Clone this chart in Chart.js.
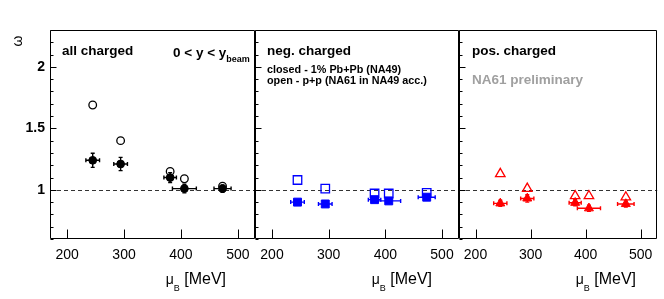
<!DOCTYPE html>
<html>
<head>
<meta charset="utf-8">
<script src="https://cdn.jsdelivr.net/npm/chart.js@4.4.1/dist/chart.umd.min.js"></script>
<style>
  html, body { margin: 0; padding: 0; background: #fff; }
  #wrap { position: relative; width: 664px; height: 299px; overflow: hidden; }
  canvas { position: absolute; left: 0; top: 0; }
  .t { position: absolute; white-space: nowrap; line-height: 1; font-family: "Liberation Sans", Arial, Helvetica, sans-serif; color: #000; }
  .b { font-weight: bold; }
  .xt { position: absolute; top: 270.5px; white-space: nowrap; line-height: 1; font-family: "Liberation Sans", Arial, sans-serif; font-size: 16px; text-align: right; }
  .xt .mu { font-size: 14px; }
  .xt sub { font-size: 9px; vertical-align: -7px; line-height: 1; }
</style>
</head>
<body>
<div id="wrap">
  <canvas id="c1" width="664" height="299"></canvas>
  <canvas id="c2" width="664" height="299"></canvas>
  <canvas id="c3" width="664" height="299"></canvas>

  <div class="t" style="left:12px; top:34px; font-size:14px; transform:rotate(-90deg);">ω</div>

  <div class="t b" style="left:62px; top:43.6px; font-size:13.5px;">all charged</div>
  <div class="t b" style="left:173px; top:45.6px; font-size:13.5px;">0 &lt; y &lt; y<span style="font-size:9px; vertical-align:-5px;">beam</span></div>

  <div class="t b" style="left:267px; top:43.6px; font-size:13.5px;">neg. charged</div>
  <div class="t b" style="left:267px; top:63.9px; font-size:10.8px;">closed - 1% Pb+Pb (NA49)</div>
  <div class="t b" style="left:267px; top:75.4px; font-size:10.8px;">open - p+p (NA61 in NA49 acc.)</div>

  <div class="t b" style="left:472px; top:43.6px; font-size:13.5px;">pos. charged</div>
  <div class="t b" style="left:472px; top:72.6px; font-size:13.5px; color:#a0a0a0;">NA61 preliminary</div>

  <div class="xt" style="right:438px;"><span class="mu">μ</span><sub>B</sub> [MeV]</div>
  <div class="xt" style="right:232px;"><span class="mu">μ</span><sub>B</sub> [MeV]</div>
  <div class="xt" style="right:28px;"><span class="mu">μ</span><sub>B</sub> [MeV]</div>
</div>
<script>
// ---- data ----
const muB      = [245, 294, 381, 406, 473];          // baryochemical potential [MeV]
const muBErr   = [12, 12, 11, 21, 15];               // horizontal error bars
const allPbPb  = [1.24, 1.21, 1.10, 1.01, 1.01];     // all charged, 1% Pb+Pb (closed)
const allPbPbErr = [0.057, 0.054, 0.04, 0.035, 0.03];
const allPP    = [1.69, 1.40, 1.15, 1.09, 1.03];     // all charged, p+p (open)
const negPbPb  = [0.90, 0.885, 0.92, 0.91, 0.94];    // neg. charged (closed)
const negPbPbErr = [0.02, 0.02, 0.02, 0.02, 0.02];
const negPP    = [1.08, 1.01, 0.97, 0.97, 0.975];    // neg. charged (open)
const posPbPb  = [0.89, 0.93, 0.895, 0.85, 0.885];   // pos. charged (closed)
const posPbPbErr = [0.025, 0.03, 0.025, 0.025, 0.025];
const posPP    = [1.13, 1.01, 0.95, 0.95, 0.94];     // pos. charged (open)
const xTickLabels = ['200', '300', '400', '500'];
const yTickLabels = ['1', '1.5', '2'];
const refLine = 1;

const X_MIN = 170, X_MAX = 530, Y_MIN = 0.6, Y_MAX = 2.3;

function pts(xs, ys) { return xs.map((x, i) => ({ x: x, y: ys[i] })); }

const panelPlugin = {
  id: 'panel',
  beforeDatasetsDraw(chart) {
    const { ctx, chartArea: a, scales: { x, y } } = chart;
    ctx.save();
    // dashed reference line
    const yy = Math.round(y.getPixelForValue(refLine)) + 0.5;
    ctx.setLineDash([4, 3]);
    ctx.strokeStyle = '#333';
    ctx.lineWidth = 1;
    ctx.beginPath();
    ctx.moveTo(a.left, yy);
    ctx.lineTo(a.right, yy);
    ctx.stroke();
    ctx.setLineDash([]);
    // error bars with small end caps
    const cap = 2;
    chart.data.datasets.forEach(ds => {
      if (!ds.xErr) return;
      ctx.strokeStyle = ds.borderColor;
      ctx.lineWidth = 1.4;
      ds.data.forEach((p, j) => {
        const px = x.getPixelForValue(p.x), py = y.getPixelForValue(p.y);
        const x0 = x.getPixelForValue(p.x - ds.xErr[j]), x1 = x.getPixelForValue(p.x + ds.xErr[j]);
        const y0 = y.getPixelForValue(p.y - ds.yErr[j]), y1 = y.getPixelForValue(p.y + ds.yErr[j]);
        ctx.beginPath();
        ctx.moveTo(x0, py); ctx.lineTo(x1, py);
        ctx.moveTo(x0, py - cap); ctx.lineTo(x0, py + cap);
        ctx.moveTo(x1, py - cap); ctx.lineTo(x1, py + cap);
        ctx.moveTo(px, y0); ctx.lineTo(px, y1);
        ctx.moveTo(px - cap, y0); ctx.lineTo(px + cap, y0);
        ctx.moveTo(px - cap, y1); ctx.lineTo(px + cap, y1);
        ctx.stroke();
      });
    });
    ctx.restore();
  },
  afterDraw(chart) {
    const { ctx, chartArea: a, scales: { x, y } } = chart;
    ctx.save();
    ctx.strokeStyle = '#000';
    ctx.lineWidth = 1;
    const L = Math.round(a.left) + 0.5, R = Math.round(a.right) - 0.5;
    const T = Math.round(a.top) + 0.5, B = Math.round(a.bottom) - 0.5;
    ctx.beginPath();
    ctx.rect(L, T, R - L, B - T);
    ctx.stroke();
    // x ticks (inside, from bottom)
    ctx.beginPath();
    x.ticks.forEach(t => {
      const px = Math.round(x.getPixelForValue(t.value)) + 0.5;
      ctx.moveTo(px, B);
      ctx.lineTo(px, B - 9);
    });
    // y ticks (inside, from left)
    y.ticks.forEach(t => {
      const v = t.value;
      const major = Math.abs(v * 2 - Math.round(v * 2)) < 1e-6;
      const py = Math.round(y.getPixelForValue(v)) + 0.5;
      ctx.moveTo(L, py);
      ctx.lineTo(L + (major ? 6 : 3), py);
    });
    ctx.stroke();
    ctx.restore();
  }
};

function makeChart(id, padL, padR, showY, closedData, closedErr, openData, color, style, rClosed, rOpen) {
  return new Chart(document.getElementById(id), {
    type: 'scatter',
    data: {
      datasets: [
        {
          label: 'closed',
          data: pts(muB, closedData),
          xErr: muBErr,
          yErr: closedErr,
          pointStyle: style,
          pointRadius: rClosed,
          backgroundColor: color,
          borderColor: color,
          borderWidth: 1
        },
        {
          label: 'open',
          data: pts(muB, openData),
          pointStyle: style,
          pointRadius: rOpen,
          backgroundColor: 'rgba(0,0,0,0)',
          borderColor: color,
          borderWidth: 1.3
        }
      ]
    },
    options: {
      responsive: false,
      animation: false,
      devicePixelRatio: 1,
      layout: { padding: { left: padL, right: padR, top: 30, bottom: 0 } },
      plugins: { legend: { display: false }, tooltip: { enabled: false } },
      scales: {
        x: {
          type: 'linear',
          min: X_MIN, max: X_MAX,
          grid: { display: false, drawTicks: false },
          border: { display: false },
          ticks: {
            stepSize: 100,
            includeBounds: false,
            autoSkip: false,
            maxRotation: 0,
            padding: 8,
            color: '#000',
            font: { family: '"Liberation Sans", Arial, sans-serif', size: 14 },
            callback: (v) => xTickLabels.includes(String(v)) ? String(v) : ''
          },
          afterFit: (s) => { s.height = 60; }
        },
        y: {
          type: 'linear',
          min: Y_MIN, max: Y_MAX,
          grid: { display: false, drawTicks: false },
          border: { display: false },
          ticks: {
            display: showY,
            stepSize: 0.1,
            autoSkip: false,
            padding: 5,
            color: '#000',
            font: { family: '"Liberation Sans", Arial, sans-serif', size: 14, weight: 'bold' },
            callback: (v) => {
              const s = String(Math.round(v * 10) / 10);
              return yTickLabels.includes(s) ? s : '';
            }
          },
          afterFit: (s) => { s.width = showY ? 50 : 0; }
        }
      }
    },
    plugins: [panelPlugin]
  });
}

makeChart('c1', 0, 409, true,  allPbPb, allPbPbErr, allPP, '#000000', 'circle',   3.9, 3.8);
makeChart('c2', 255, 205, false, negPbPb, negPbPbErr, negPP, '#0000ff', 'rect',     5.6, 6.0);
makeChart('c3', 459, 2, false,  posPbPb, posPbPbErr, posPP, '#ff0000', 'triangle', 5.2, 5.5);
</script>
</body>
</html>
